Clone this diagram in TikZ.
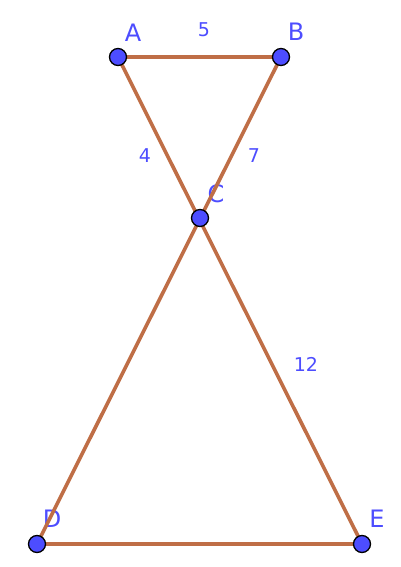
\documentclass[tikz,border=0pt]{standalone}
\usepackage{fontspec}
\setsansfont{DejaVu Sans}
\definecolor{seg}{RGB}{191,110,70}
\definecolor{pt}{RGB}{77,77,255}
\begin{document}
\begin{tikzpicture}[x=1pt,y=-1pt,
  segline/.style={draw=seg,line width=3.6pt},
  dot/.style={circle,fill=pt,draw=black,line width=1.3pt,inner sep=0pt,minimum size=17pt},
  ptlabel/.style={text=pt,font=\sffamily\fontsize{24}{24}\selectfont,inner sep=0pt},
  numlabel/.style={text=pt,font=\sffamily\fontsize{19}{19}\selectfont,inner sep=0pt}]
\useasboundingbox (0,0) rectangle (401,567);
% labels first (segments pass over them)
\node[ptlabel] (lA) at (133,33) {A};
\node[ptlabel] (lB) at (296,32) {B};
\node[ptlabel] (lC) at (216,194) {C};
\node[ptlabel] (lD) at (52,519) {D};
\node[ptlabel] (lE) at (377,519) {E};
\node[numlabel] (n5) at (204,30) {5};
\node[numlabel] (n4) at (145,156) {4};
\node[numlabel] (n7) at (254,156) {7};
\node[numlabel] (n12) at (306,364) {12};
% point coordinates
\coordinate (A) at (118,57);
\coordinate (B) at (281,57);
\coordinate (C) at (200,218);
\coordinate (D) at (37,544);
\coordinate (E) at (362,544);
% segments
\draw[segline] (A) -- (B);
\draw[segline] (A) -- (E);
\draw[segline] (B) -- (D);
\draw[segline] (D) -- (E);
% points
\node[dot] (pA) at (A) {};
\node[dot] (pB) at (B) {};
\node[dot] (pC) at (C) {};
\node[dot] (pD) at (D) {};
\node[dot] (pE) at (E) {};
\end{tikzpicture}
\end{document}
